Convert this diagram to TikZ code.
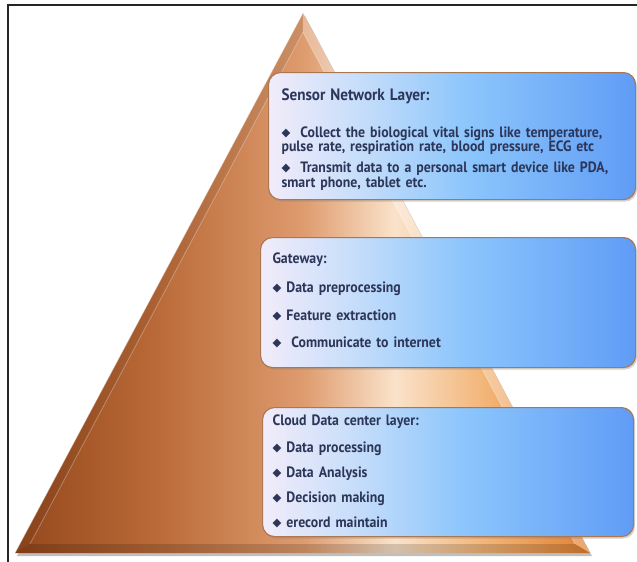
\documentclass[tikz,border=0pt]{standalone}
\usepackage{fontspec}
\setmainfont{PT Sans}[FakeStretch=0.92]
\newfontfamily\symfont{DejaVu Sans}
\usepackage{tikz}
\usetikzlibrary{positioning,calc,shadows}

\definecolor{pyrdark}{RGB}{148,72,28}
\definecolor{pyrmid}{RGB}{185,105,55}
\definecolor{pyrtan}{RGB}{222,155,110}
\definecolor{pyrlight}{RGB}{250,226,202}
\definecolor{pyrpeach}{RGB}{242,180,118}
\definecolor{pyrorange}{RGB}{226,128,48}
\definecolor{boxwhite}{RGB}{242,236,250}
\definecolor{boxpale}{RGB}{200,222,250}
\definecolor{boxsky}{RGB}{140,198,252}
\definecolor{boxblue}{RGB}{96,156,246}
\definecolor{boxedge}{RGB}{172,118,78}
\definecolor{textnavy}{RGB}{44,54,88}

\pgfdeclarehorizontalshading{pyrshade}{100bp}{color(0bp)=(pyrdark); color(25bp)=(pyrdark); color(37bp)=(pyrmid); color(50bp)=(pyrtan); color(58bp)=(pyrlight); color(66bp)=(pyrpeach); color(75bp)=(pyrorange); color(100bp)=(pyrorange)}
\pgfdeclarehorizontalshading{boxshade}{100bp}{color(0bp)=(boxwhite); color(25bp)=(boxwhite); color(37bp)=(boxpale); color(52bp)=(boxsky); color(75bp)=(boxblue); color(100bp)=(boxblue)}

\newcommand{\bul}{\raisebox{0.8pt}{\symfont\fontsize{11.5}{11.5}\selectfont ◆}}
\newcommand{\toprow}[1]{\rule{0pt}{#1pt}}
\newcommand{\lastrow}[1]{\rule[-#1pt]{0pt}{0pt}}
\setlength{\lineskiplimit}{-50pt}

\begin{document}
\begin{tikzpicture}[x=1pt, y=-1pt,
    layer/.style={rectangle, rounded corners=12pt, draw=boxedge, line width=1.1pt,
        shading=boxshade, drop shadow={opacity=.35, shadow xshift=1.5pt, shadow yshift=-2pt},
        anchor=north west, align=left, text=textnavy, inner ysep=0pt,
        font=\fontsize{15}{14}\selectfont\bfseries},
    bevel/.style={line width=0.8pt, white, opacity=.45}
]
    \useasboundingbox (0,0) rectangle (637,562);
    \draw[line width=2pt, black!85] (8,562) -- (8,5) -- (637,5);

    % pyramid and its bevel
    \coordinate (apex) at (303,13);
    \coordinate (bl) at (15,553);
    \coordinate (br) at (590,553);
    \coordinate (inc) at (302.7,380.4);
    \coordinate (iapex) at ($(inc)!0.948!(apex)$);
    \coordinate (ibl) at ($(inc)!0.948!(bl)$);
    \coordinate (ibr) at ($(inc)!0.948!(br)$);

    \fill[black, opacity=.25] ($(apex)+(2,3)$) -- ($(bl)+(2,3)$) -- ($(br)+(2,3)$) -- cycle;
    \shade[shading=pyrshade] (apex) -- (bl) -- (br) -- cycle;
    \fill[black, opacity=.08] (apex) -- (bl) -- (ibl) -- (iapex) -- cycle;
    \fill[white, opacity=.3] (apex) -- (br) -- (ibr) -- (iapex) -- cycle;
    \fill[black, opacity=.15] (bl) -- (br) -- (ibr) -- (ibl) -- cycle;
    \draw[bevel] (bl) -- (apex);
    \draw[bevel, opacity=.3] (ibl) -- (iapex) -- (ibr);

    \node[layer, text width=341pt, inner xsep=13pt] (sensor) at (268,72)
        {\toprow{28}{\fontsize{16.5}{14}\selectfont Sensor Network Layer:}\\[22pt]
         \bul\ \ Collect the biological vital signs like temperature,\\
         pulse rate, respiration rate, blood pressure, ECG etc\\[7pt]
         \bul\ \ Transmit data to a personal smart device like PDA,\\[1pt]
         smart phone, tablet etc.\lastrow{12}};

    \node[layer, text width=351pt, inner xsep=12pt] (gateway) at (260,237)
        {\toprow{26}Gateway:\\[15pt]
         \bul\ Data preprocessing\\[14pt]
         \bul\ Feature extraction\\[13pt]
         \bul\ \ Communicate to internet\lastrow{20}};

    \node[layer, text width=351pt, inner xsep=10pt] (cloud) at (262,407)
        {\toprow{18}Cloud Data center layer:\\[13pt]
         \bul\ Data processing\\[11pt]
         \bul\ Data Analysis\\[11pt]
         \bul\ Decision making\\[11pt]
         \bul\ erecord maintain\lastrow{9}};
\end{tikzpicture}
\end{document}
